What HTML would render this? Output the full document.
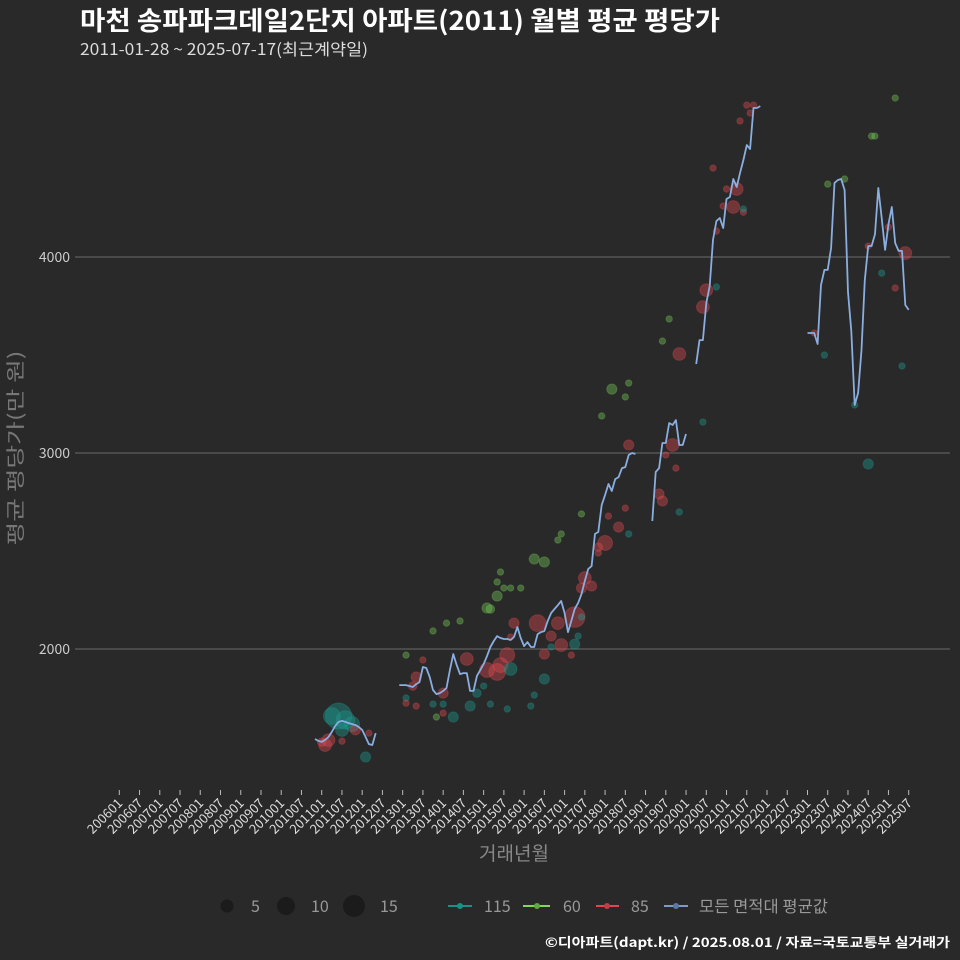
<!DOCTYPE html>
<html><head><meta charset="utf-8">
<style>
html,body{margin:0;padding:0;background:#292929;}
svg{display:block;font-family:"Noto Sans CJK KR","Liberation Sans",sans-serif;}
</style></head>
<body>
<svg id="chart" width="960" height="960" viewBox="0 0 960 960" xmlns="http://www.w3.org/2000/svg">
<rect x="0" y="0" width="960" height="960" fill="#292929"/>
<text x="80" y="30" fill="#ffffff" font-size="26" font-weight="bold" textLength="640" lengthAdjust="spacingAndGlyphs">마천 송파파크데일2단지 아파트(2011) 월별 평균 평당가</text>
<text x="80" y="55" fill="#dddddd" font-size="16" textLength="288" lengthAdjust="spacingAndGlyphs">2011-01-28 ~ 2025-07-17(최근계약일)</text>
<g id="grid"></g>
<g id="yaxis"></g>
<g id="xaxis"></g>
<g id="points"></g>
<g id="line"></g>
<text transform="translate(22,448) rotate(-90)" text-anchor="middle" fill="#777777" font-size="19" textLength="195" lengthAdjust="spacingAndGlyphs">평균 평당가(만 원)</text>
<text x="514" y="860" text-anchor="middle" fill="#888888" font-size="19">거래년월</text>
<g id="legend">
  <circle cx="227" cy="906" r="6.5" fill="#1b1b1b"/>
  <text x="251" y="912" fill="#999" font-size="16">5</text>
  <circle cx="286" cy="906" r="9" fill="#1b1b1b"/>
  <text x="311" y="912" fill="#999" font-size="16">10</text>
  <circle cx="354" cy="906" r="11" fill="#1b1b1b"/>
  <text x="380" y="912" fill="#999" font-size="16">15</text>
  <line x1="448" y1="906" x2="472" y2="906" stroke="#1f8f86" stroke-width="2"/>
  <circle cx="460" cy="906" r="3" fill="#1f8f86"/>
  <text x="484" y="912" fill="#999" font-size="16">115</text>
  <line x1="523" y1="906" x2="550" y2="906" stroke="#7ed957" stroke-width="2"/>
  <circle cx="537" cy="906" r="3" fill="#5fa84a"/>
  <text x="563" y="912" fill="#999" font-size="16">60</text>
  <line x1="596" y1="906" x2="619" y2="906" stroke="#e0464d" stroke-width="2"/>
  <circle cx="607" cy="906" r="3" fill="#b94046"/>
  <text x="631" y="912" fill="#999" font-size="16">85</text>
  <line x1="664" y1="906" x2="688" y2="906" stroke="#7b9cc8" stroke-width="2"/>
  <circle cx="676" cy="906" r="3" fill="#5a7aa6"/>
  <text x="699" y="912" fill="#999" font-size="16" textLength="129" lengthAdjust="spacingAndGlyphs">모든 면적대 평균값</text>
</g>
<text x="545" y="947" fill="#ffffff" font-size="13" font-weight="bold" textLength="405" lengthAdjust="spacingAndGlyphs">©디아파트(dapt.kr) / 2025.08.01 / 자료=국토교통부 실거래가</text>
</svg>
<script>
// ---- data ----
const yTicks = [2000, 3000, 4000];
const xTickLabels = (function(){const a=[];for(let y=2006;y<=2025;y++){a.push(y+"01");a.push(y+"07");}return a;})();
const segStarts = ["2010-11","2012-12","2019-03","2020-04","2023-01"];
const seg1 = [1541,1531,1526,1536,1551,1577,1607,1628,1633,1628,1622,1617,1612,1602,1587,1551,1515,1510,1571];
const seg2 = [1816,1816,1816,1811,1806,1821,1831,1908,1903,1857,1791,1770,1775,1786,1801,1893,1974,1918,1872,1877,1877,1786,1786,1862,1893,1923,1964,2010,2041,2066,2056,2051,2051,2046,2061,2112,2056,2015,2035,2010,2010,2076,2086,2092,2143,2183,2204,2224,2245,2183,2086,2143,2204,2234,2280,2347,2408,2423,2587,2597,2735,2786,2842,2806,2867,2877,2923,2928,2990,3000,2995];
const seg3 = [2653,2903,2923,3051,3051,3153,3143,3168,3041,3041,3097];
const seg4 = [3454,3576,3576,3765,3852,4087,4183,4199,4148,4296,4306,4398,4357,4428,4495,4571,4551,4760,4760,4770];
const seg5 = [3612,3612,3612,3556,3857,3934,3934,4046,4378,4393,4398,4342,3821,3622,3245,3306,3525,3882,4056,4056,4117,4352,4199,4036,4168,4255,4071,4031,4031,3755,3730];
const segValues = [seg1,seg2,seg3,seg4,seg5];

const ptMonth = ["2011-06","2011-08","2011-10","2011-04","2011-07","2011-03","2011-02","2011-01","2011-07","2011-11","2012-03","2012-02","2013-02","2013-05","2013-07","2013-04","2013-02","2013-02","2013-05","2013-10","2013-10","2014-01","2014-01","2013-11","2014-01","2014-02","2014-04","2014-06","2014-08","2014-09","2014-11","2015-01","2015-02","2015-03","2015-05","2015-05","2015-06","2015-07","2015-09","2015-12","2015-03","2015-02","2015-05","2015-06","2015-08","2015-09","2015-08","2015-10","2015-09","2016-03","2016-04","2016-07","2016-05","2016-07","2016-09","2016-11","2016-09","2016-04","2016-07","2016-11","2016-12","2016-12","2017-03","2017-04","2017-04","2017-05","2017-06","2017-06","2017-07","2017-09","2017-06","2017-11","2018-01","2017-11","2018-02","2018-05","2018-08","2018-07","2018-08","2017-12","2018-03","2018-08","2018-07","2019-11","2019-06","2019-08","2019-09","2019-07","2019-10","2019-11","2019-05","2019-06","2020-06","2020-06","2020-07","2020-10","2020-10","2020-09","2020-12","2021-01","2021-03","2021-04","2021-06","2021-06","2021-05","2021-07","2021-09","2021-08","2023-03","2023-06","2023-07","2023-12","2024-03","2024-07","2024-08","2024-09","2025-03","2024-07","2024-11","2025-01","2025-03","2025-06","2025-05"];
const ptValue = [1658,1638,1617,1658,1587,1535,1510,1525,1530,1587,1571,1449,1969,1857,1944,1811,1750,1724,1709,2092,1719,1719,1673,1653,1775,2132,1653,2143,1949,1709,1775,1811,2209,2204,2270,2342,2393,2311,2311,2311,1719,1893,1883,1918,1969,1898,1694,2132,2061,1709,1765,1847,2132,1974,2066,2132,2010,2459,2444,2556,2587,2020,1969,2163,2025,2066,2163,2311,2362,2321,2689,2490,2541,2520,2678,2622,2587,2719,3041,3189,3326,3357,3286,3505,3571,3684,3041,2990,2923,2699,2791,2755,3158,3745,3831,3847,4132,4454,4260,4347,4255,4347,4229,4245,4694,4775,4775,4735,3612,3500,4372,4398,3245,2944,4617,4617,4811,4056,3918,4153,3842,4020,3444];
const ptCount = [23,11,7,9,5,5,5,2,1,3,1,3,1,3,1,2,1,1,1,1,1,1,1,1,3,1,3,1,5,3,2,1,3,2,3,1,1,1,1,1,1,7,9,7,7,5,1,3,1,1,1,3,9,3,3,5,1,3,3,1,1,5,1,14,3,1,1,3,5,3,1,1,7,2,1,3,1,1,3,1,3,1,1,5,1,1,5,1,1,1,3,3,1,5,5,1,1,1,1,1,5,5,1,1,1,1,1,1,1,1,1,1,1,3,1,1,1,1,1,1,1,5,1];
const ptType = ["115","115","115","115","115","85","85","85","85","85","85","115","60","85","85","85","115","85","85","60","115","115","85","60","85","60","115","60","85","115","115","115","60","60","60","60","60","60","60","60","115","85","85","85","85","115","115","85","85","115","115","115","85","85","85","85","115","60","60","60","60","85","85","85","115","115","115","85","85","85","60","85","85","85","85","85","115","85","85","60","60","60","60","85","60","60","85","85","85","115","85","85","115","85","85","115","85","85","85","85","85","85","85","115","85","85","85","85","85","115","60","60","115","115","60","60","60","85","115","85","85","85","115"];

// ---- axes ----
const NS="http://www.w3.org/2000/svg";
function monthIndex(s){const p=s.split("-");return (parseInt(p[0])-2006)*12+parseInt(p[1])-1;}
function xScale(k){return 119.3+k*3.3735;}
function yScale(v){return 257+(4000-v)*0.196;}
function mk(tag,attrs,parent){const e=document.createElementNS(NS,tag);for(const k in attrs)e.setAttribute(k,attrs[k]);parent.appendChild(e);return e;}

const grid=document.getElementById('grid'), yax=document.getElementById('yaxis'), xax=document.getElementById('xaxis');
yTicks.forEach(function(t){
  const l=mk('line',{x1:75,x2:950,y1:yScale(t),y2:yScale(t),stroke:'#6a6a6a','stroke-width':1},grid);
  
  
  const tx=mk('text',{x:70,y:yScale(t)+5,'text-anchor':'end',fill:'#cccccc','font-size':14},yax);
  tx.textContent=t;
  
  
});
xTickLabels.forEach(function(lab,i){
  const x=xScale(i*6);
  const l=mk('line',{x1:x,x2:x,y1:790,y2:795,stroke:'#bbbbbb','stroke-width':1},xax);
  
  
  const t=mk('text',{transform:'translate('+(x+4)+',804) rotate(-45)','text-anchor':'end',fill:'#dddddd','font-size':13},xax);
  t.textContent=lab;
  
  
});

// ---- points ----
const colors={"115":"#1f9a91","60":"#76c957","85":"#e04a53"};
const pg=document.getElementById('points');
for(let i=0;i<ptMonth.length;i++){
  const r=Math.sqrt(ptCount[i])*2.6+0.6;
  const c=mk('circle',{cx:xScale(monthIndex(ptMonth[i])),cy:yScale(ptValue[i]),r:r,fill:colors[ptType[i]],'fill-opacity':0.4,stroke:colors[ptType[i]],'stroke-opacity':0.3,'stroke-width':1},pg);
  
  
}

// ---- average line ----
const lg=document.getElementById('line');
segValues.forEach(function(vals,si){
  const k0=monthIndex(segStarts[si]);
  const d=vals.map(function(v,j){return (j?'L':'M')+xScale(k0+j).toFixed(1)+' '+yScale(v).toFixed(1);}).join(' ');
  const p=mk('path',{d:d,fill:'none',stroke:'#8aaee0','stroke-width':1.8,'stroke-linejoin':'round'},lg);
  
  
});
</script>
</body></html>
